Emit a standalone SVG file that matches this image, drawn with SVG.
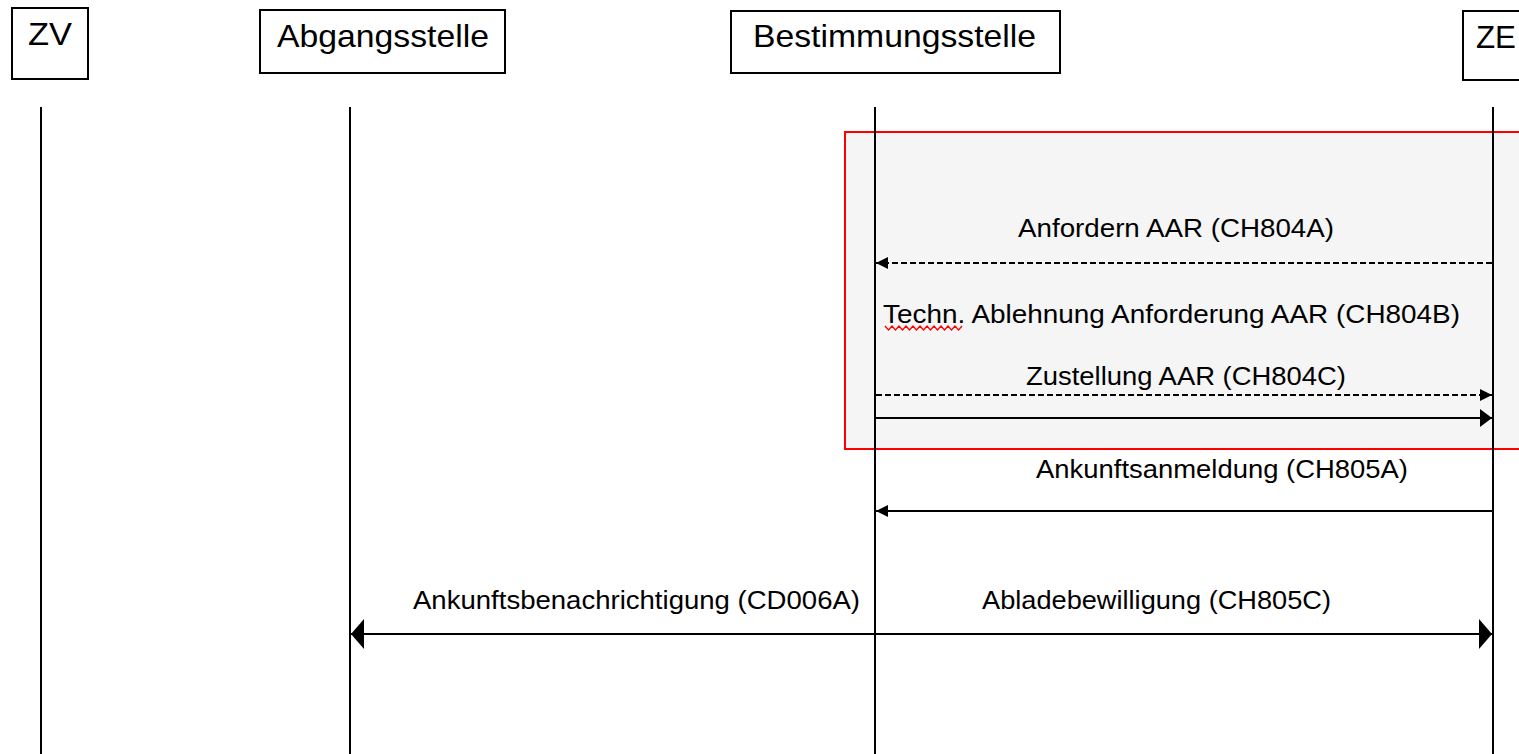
<svg xmlns="http://www.w3.org/2000/svg" width="1519" height="754" viewBox="0 0 1519 754">
<style>
.box{fill:#fff;stroke:#000;stroke-width:2}
.hd{font-family:"Liberation Sans",Arial,sans-serif;font-size:32px;fill:#000}
.lb{font-family:"Liberation Sans",Arial,sans-serif;font-size:26px;fill:#000}
.life{stroke:#000;stroke-width:2;fill:none}
.msg{stroke:#000;stroke-width:2;fill:none}
.dash{stroke-dasharray:6 3}
</style>
<defs>
<marker id="sm" markerUnits="userSpaceOnUse" viewBox="0 0 12 12" refX="12" refY="6" markerWidth="12" markerHeight="12" orient="auto-start-reverse"><path d="M0,0 L12,6 L0,12 z" fill="#000"/></marker>
<marker id="md" markerUnits="userSpaceOnUse" viewBox="0 0 12 18" refX="12" refY="9" markerWidth="12" markerHeight="18" orient="auto-start-reverse"><path d="M0,0 L12,9 L0,18 z" fill="#000"/></marker>
<marker id="lg" markerUnits="userSpaceOnUse" viewBox="0 0 13 30" refX="13" refY="15" markerWidth="13" markerHeight="30" orient="auto-start-reverse"><path d="M0,0 L13,15 L0,30 z" fill="#000"/></marker>
</defs>
<rect width="1519" height="754" fill="#fff"/>
<g id="frame">
<rect x="845" y="132" width="690" height="317" fill="#f5f5f5" stroke="#ff0000" stroke-width="2"/>
</g>
<g id="ZV">
<rect class="box" x="12" y="8" width="76" height="71"/>
<text class="hd" x="28" y="45" textLength="44" lengthAdjust="spacingAndGlyphs">ZV</text>
<line class="life" x1="41" y1="107" x2="41" y2="754"/>
</g>
<g id="Abgangsstelle">
<rect class="box" x="260" y="10" width="245" height="63"/>
<text class="hd" x="277" y="47" textLength="212" lengthAdjust="spacingAndGlyphs">Abgangsstelle</text>
<line class="life" x1="350" y1="107" x2="350" y2="754"/>
</g>
<g id="Bestimmungsstelle">
<rect class="box" x="731" y="11" width="329" height="62"/>
<text class="hd" x="753" y="47" textLength="283" lengthAdjust="spacingAndGlyphs">Bestimmungsstelle</text>
<line class="life" x1="875" y1="107" x2="875" y2="754"/>
</g>
<g id="ZE">
<rect class="box" x="1463" y="11" width="70" height="69"/>
<text class="hd" x="1476" y="48" textLength="40" lengthAdjust="spacingAndGlyphs">ZE</text>
<line class="life" x1="1493" y1="107" x2="1493" y2="754"/>
</g>
<g id="connectors">
<line class="msg dash" x1="1492" y1="263" x2="876" y2="263" marker-end="url(#sm)"/>
<line class="msg dash" x1="876" y1="395" x2="1492" y2="395" marker-end="url(#sm)"/>
<line class="msg" x1="876" y1="418" x2="1492" y2="418" marker-end="url(#md)"/>
<line class="msg" x1="1492" y1="511" x2="876" y2="511" marker-end="url(#sm)"/>
<line class="msg" x1="351" y1="634" x2="1492" y2="634" marker-start="url(#lg)" marker-end="url(#lg)"/>
</g>
<g id="labels">
<text class="lb" x="1018" y="237" textLength="316" lengthAdjust="spacingAndGlyphs">Anfordern AAR (CH804A)</text>
<text class="lb" x="883" y="323" textLength="577" lengthAdjust="spacingAndGlyphs">Techn. Ablehnung Anforderung AAR (CH804B)</text>
<path d="M885,326 l3.5,4 l3.5,-4 l3.5,4 l3.5,-4 l3.5,4 l3.5,-4 l3.5,4 l3.5,-4 l3.5,4 l3.5,-4 l3.5,4 l3.5,-4 l3.5,4 l3.5,-4 l3.5,4 l3.5,-4 l3.5,4 l3.5,-4 l3.5,4 l3.5,-4 l3.5,4 l3.5,-4" fill="none" stroke="#ff0000" stroke-width="1.3"/>
<text class="lb" x="1026" y="385" textLength="320" lengthAdjust="spacingAndGlyphs">Zustellung AAR (CH804C)</text>
<text class="lb" x="1036" y="478" textLength="372" lengthAdjust="spacingAndGlyphs">Ankunftsanmeldung (CH805A)</text>
<text class="lb" x="413" y="609" textLength="447" lengthAdjust="spacingAndGlyphs">Ankunftsbenachrichtigung (CD006A)</text>
<text class="lb" x="982" y="609" textLength="349" lengthAdjust="spacingAndGlyphs">Abladebewilligung (CH805C)</text>
</g>
</svg>
